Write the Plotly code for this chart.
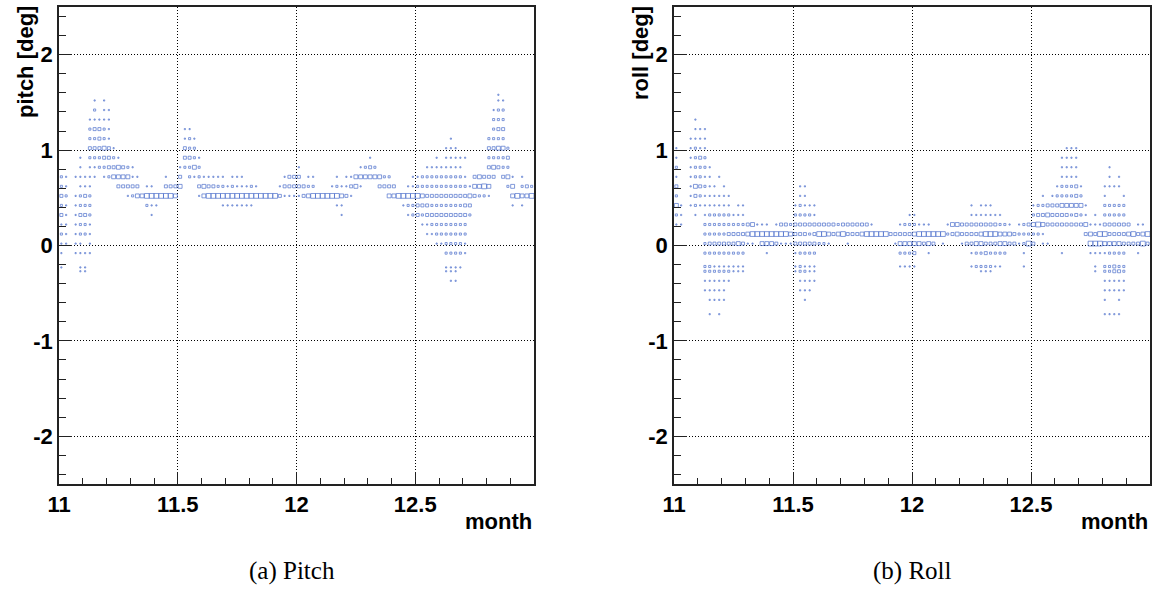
import plotly.graph_objects as go

# Binning of the 2D histograms: 100 bins of 0.02 month between 11 and 13
MONTH_MIN, MONTH_MAX = 11.0, 13.0
BIN_WIDTH = 0.02

# Each row: (angle bin centre in deg, "first_bin:contents ...")
# contents are consecutive bin entries starting at first_bin, '0' = empty bin
pitch_rows = [
    (1.58, "92:1"),
    (1.52, "7:101 92:11"),
    (1.42, "7:2011 91:122"),
    (1.32, "6:11111 91:222"),
    (1.22, "6:23321 26:11 91:233"),
    (1.12, "6:22321 26:121 82:1 90:2222"),
    (1.02, "6:333431 26:322 81:111 90:33442"),
    (0.92, "4:1 6:2223321 26:3321 65:1 79:1011111 90:22223"),
    (0.82, "4:1 6:1122334321 25:12242 50:1 63:1232 77:11111111 90:34322"),
    (0.72, "0:21 3:11111 9:12444411 22:1 25:3021211111 36:111 47:1333 52:11 58:1 "
           "60:1144444422 74:112222222221 87:34333 93:341 97:1"),
    (0.62, "0:21 4:111 12:33333 18:11 22:3334 29:3433221211121 46:13333322 57:1211341 "
           "67:3333 73:1122222222222 86:14454 94:24 97:232"),
    (0.52, "0:32 3:1232 14:12445555554 29:145555555555555553111134555555431 "
           "69:4455555433333333343221 95:45445"),
    (0.42, "0:21 3:1222 18:211 34:1111111 58:11 72:122333222222233 95:101"),
    (0.32, "0:31 3:1332 19:1 59:1 73:12323333333332"),
    (0.22, "0:11 3:1221 76:1122222222"),
    (0.12, "0:21 3:1221 77:112222222"),
    (0.02, "0:11 3:1101 79:1122221"),
    (-0.08, "0:1 3:1111 81:22221"),
    (-0.23, "0:1 4:11 81:1111"),
    (-0.27, "4:11 81:111"),
    (-0.37, "82:11"),
]

roll_rows = [
    (1.32, "4:1"),
    (1.22, "4:111"),
    (1.12, "3:1111"),
    (1.02, "0:1 3:1211 82:111"),
    (0.92, "0:1 3:1232 81:1111"),
    (0.82, "0:2 3:12221 81:1111 91:1"),
    (0.72, "0:1 3:12211 9:1 81:1111 91:101"),
    (0.62, "0:3 3:14321101 26:11 80:122231 90:1111"),
    (0.52, "0:2 3:132111111 26:11 77:101222232 90:1 94:1"),
    (0.42, "0:41 3:121111111 13:11 25:12111 62:10111 75:122333444441 90:22222"),
    (0.32, "0:21 4:1 6:122222111 25:22221 49:11 62:1111111 75:233433332321 88:1 90:22222"),
    (0.22, "0:11 6:222222222341110133233333333323333331 47:1222111 57:14433333333221 "
           "72:1234543333333341 88:11333333 97:11"),
    (0.12, "6:222223333455555555433323554345333455555333334555555234333345554443222221 "
           "86:34355333345345"),
    (0.02, "6:233333343110444311133333221 36:1 46:144444343 56:1 60:133443334433 "
           "72:1253 77:11 87:5554444333353"),
    (-0.08, "6:222222222 19:1 25:12222 47:2223001 62:12232222 73:1 81:1 87:11112222 97:1"),
    (-0.22, "6:221111111 25:12111 47:1111 62:1222211 73:1 88:1 90:22322"),
    (-0.27, "6:222222111 25:12211 64:111 88:1 90:22332"),
    (-0.37, "6:111111 26:1111 90:11111"),
    (-0.47, "6:11111 26:111 90:11111"),
    (-0.57, "7:1111 27:1 90:1001"),
    (-0.72, "7:101 90:1111"),
]

x_tick_values = [11, 11.5, 12, 12.5]
x_tick_labels = ["11", "11.5", "12", "12.5"]
y_tick_values = [-2, -1, 0, 1, 2]
y_tick_labels = ["-2", "-1", "0", "1", "2"]

BOX_COLOR = "rgb(78,112,204)"
W, H = 1156, 590


def unpack(rows):
    """Expand the run-encoded rows into bin centres and contents."""
    xs, ys, counts = [], [], []
    for y, spec in rows:
        for token in spec.split():
            start, contents = token.split(":")
            start = int(start)
            for k, ch in enumerate(contents):
                if ch == "0":
                    continue
                xs.append(MONTH_MIN + BIN_WIDTH * (start + k) + BIN_WIDTH / 2)
                ys.append(y)
                counts.append(int(ch))
    return xs, ys, counts


def box_trace(rows, xaxis, yaxis):
    xs, ys, counts = unpack(rows)
    sizes = [0.9 * c + 0.3 for c in counts]
    return go.Scatter(
        x=xs, y=ys, mode="markers", xaxis=xaxis, yaxis=yaxis,
        marker=dict(symbol="square-open", size=sizes, color=BOX_COLOR,
                    line=dict(width=1, color=BOX_COLOR)),
        hoverinfo="skip", showlegend=False,
    )


fig = go.Figure()
fig.add_trace(box_trace(pitch_rows, "x", "y"))
fig.add_trace(box_trace(roll_rows, "x2", "y2"))

tick_font = dict(family="Liberation Sans", size=22, color="black", weight="bold")
grid_dash = "1px,2px"

y_dom = [1 - 484 / H, 1 - 7 / H]
common_x = dict(
    range=[MONTH_MIN, MONTH_MAX], tickmode="array", tickvals=x_tick_values,
    ticktext=x_tick_labels, ticks="inside", ticklen=12, tickwidth=1,
    tickcolor="#222", showline=True, linecolor="#222", linewidth=1.5, mirror=True,
    showgrid=True, gridcolor="#000", griddash=grid_dash, gridwidth=1, zeroline=False,
    tickfont=tick_font, automargin=False,
    minor=dict(dtick=0.1, tick0=11, ticks="inside", ticklen=6, tickcolor="#222",
               tickwidth=1, showgrid=False),
)
common_y = dict(
    range=[-2.5, 2.5], tickmode="array", tickvals=y_tick_values,
    ticktext=y_tick_labels, ticks="inside", ticklen=13, tickwidth=1,
    tickcolor="#222", showline=True, linecolor="#222", linewidth=1.5, mirror=True,
    showgrid=True, gridcolor="#000", griddash=grid_dash, gridwidth=1, zeroline=False,
    tickfont=tick_font, domain=y_dom, automargin=False,
    minor=dict(dtick=0.2, tick0=0, ticks="inside", ticklen=7, tickcolor="#222",
               tickwidth=1, showgrid=False),
)

fig.update_layout(
    template="none",
    width=W, height=H, margin=dict(l=0, r=0, t=0, b=0, pad=0, autoexpand=False),
    paper_bgcolor="white", plot_bgcolor="white",
    xaxis=dict(common_x, domain=[59 / W, 534 / W], anchor="y"),
    yaxis=dict(common_y, anchor="x"),
    xaxis2=dict(common_x, domain=[674 / W, 1150 / W], anchor="y2"),
    yaxis2=dict(common_y, anchor="x2"),
)

title_font = dict(family="Liberation Sans", size=22, color="black", weight="bold")
caption_font = dict(family="Liberation Serif", size=25, color="black")

annotations = [
    dict(text="pitch [deg]", x=25 / W, y=1 - 4 / H, textangle=-90,
         xanchor="center", yanchor="top", font=title_font),
    dict(text="roll [deg]", x=640 / W, y=1 - 4 / H, textangle=-90,
         xanchor="center", yanchor="top", font=title_font),
    dict(text="month", x=534 / W, y=1 - 521 / H, xanchor="right",
         yanchor="middle", font=title_font),
    dict(text="month", x=1150 / W, y=1 - 521 / H, xanchor="right",
         yanchor="middle", font=title_font),
    dict(text="(a) Pitch", x=292 / W, y=1 - 571 / H, xanchor="center",
         yanchor="middle", font=caption_font),
    dict(text="(b) Roll", x=912 / W, y=1 - 571 / H, xanchor="center",
         yanchor="middle", font=caption_font),
]
for a in annotations:
    a.update(xref="paper", yref="paper", showarrow=False)
fig.update_layout(annotations=annotations)

fig.write_html("out.html")
